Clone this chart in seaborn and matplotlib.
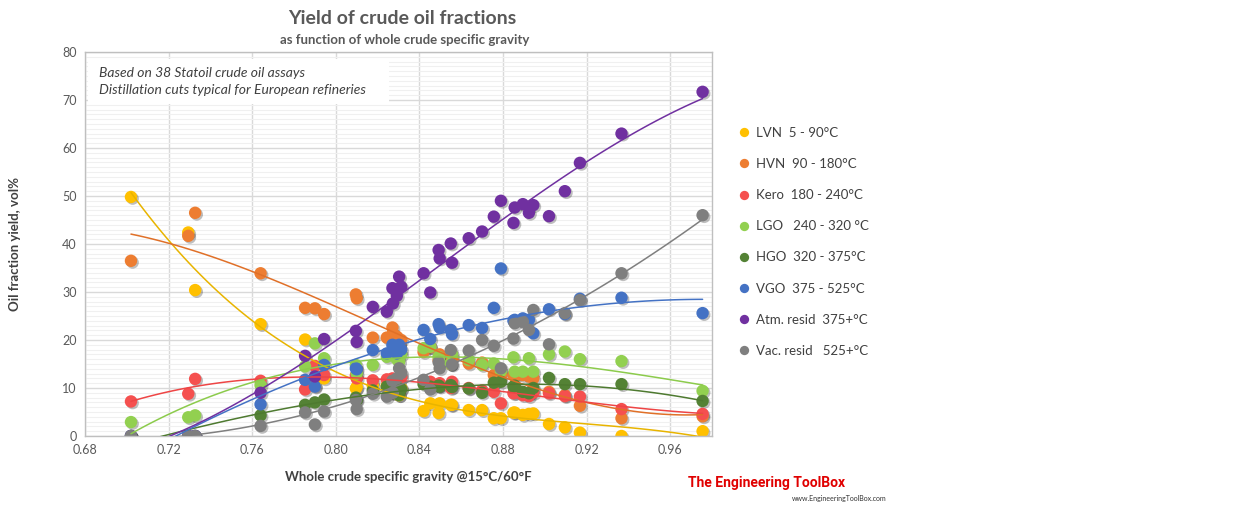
import matplotlib
matplotlib.use("Agg")
import numpy as np
import pandas as pd
import matplotlib.pyplot as plt
import matplotlib.patheffects as pe
from matplotlib.patches import Rectangle
from matplotlib.ticker import MultipleLocator, FormatStrFormatter
import seaborn as sns

# whole crude specific gravity of each assay
sg = [0.702, 0.7294, 0.7327, 0.764, 0.7853, 0.790, 0.7944, 0.8096, 0.8100, 0.8177,
      0.8244, 0.8271, 0.8273, 0.8292, 0.8303, 0.8313, 0.842, 0.8452, 0.8492, 0.8497,
      0.855, 0.8556, 0.8636, 0.870, 0.8756, 0.879, 0.885, 0.8856, 0.8895, 0.8924,
      0.8945, 0.902, 0.9096, 0.9168, 0.9367, 0.9755]

# yields, vol%
lvn = [49.8, 42.4, 30.4, 23.3, 20.1, 10.5, 12.0, 9.9, 10.2, 10.5,
       10.5, 9.0, 11.0, 9.5, 8.5, 10.0, 5.2, 6.8, 4.8, 6.8,
       6.5, 6.5, 5.4, 5.4, 3.7, 3.7, 4.85, 4.9, 4.4, 4.6,
       4.7, 2.5, 1.8, 0.7, 0.0, 1.0]
hvn = [36.5, 41.7, 46.5, 33.9, 26.7, 26.6, 25.4, 29.5, 28.7, 20.5,
       20.5, 22.6, 21.4, 20.7, 19.5, 20.0, 17.5, 18.5, 15.8, 17.0,
       15.0, 16.4, 15.1, 15.3, 12.7, 12.7, 12.7, 12.5, 12.7, 12.4,
       12.0, 9.2, 8.5, 6.3, 3.7, 4.1]
kero = [7.2, 8.8, 11.9, 11.5, 9.7, 14.6, 12.7, 12.6, 12.0, 11.6,
        11.8, 12.0, 11.0, 11.7, 11.3, 12.3, 11.5, 11.3, 10.5, 11.0,
        10.0, 11.3, 10.0, 9.5, 9.2, 6.8, 8.9, 9.0, 8.5, 8.3,
        9.0, 8.9, 8.3, 8.2, 5.6, 4.6]
lgo = [2.9, 3.9, 4.3, 10.6, 14.5, 19.3, 16.2, 14.8, 13.0, 14.8,
       16.5, 17.5, 18.0, 16.0, 15.5, 17.0, 18.3, 18.6, 16.5, 15.5,
       15.0, 17.0, 15.8, 14.8, 15.1, 13.5, 16.4, 13.4, 13.4, 16.2,
       13.4, 17.0, 17.6, 16.0, 15.6, 9.4]
hgo = [0, 0, 0, 4.3, 6.5, 7.0, 7.6, 8.0, 7.5, 9.5,
       10.3, 9.6, 10.5, 9.0, 8.5, 9.8, 10.8, 10.3, 10.5, 10.3,
       10.6, 10.2, 9.9, 9.0, 11.1, 11.3, 10.3, 10.5, 9.2, 8.9,
       10.0, 12.1, 10.8, 10.8, 10.8, 7.3]
vgo = [0, 0, 0, 6.6, 11.7, 10.3, 14.8, 14.1, 13.9, 17.9,
       17.2, 19.0, 18.6, 17.2, 19.0, 18.0, 22.1, 20.2, 23.3, 22.6,
       22.1, 21.2, 23.1, 22.5, 26.7, 34.9, 24.0, 24.2, 24.5, 24.2,
       21.4, 26.4, 25.4, 28.6, 28.8, 25.6]
atm = [0, 0, 0, 9.0, 16.7, 12.4, 20.2, 21.9, 19.6, 26.9,
       25.9, 30.8, 27.6, 29.2, 33.2, 31.1, 33.9, 29.9, 38.75, 37.0,
       40.1, 36.1, 41.2, 42.6, 45.7, 49.0, 44.4, 47.6, 48.3, 46.5,
       48.1, 45.8, 51.0, 56.9, 63.0, 71.7]
vac = [0, 0, 0, 2.1, 4.9, 2.4, 5.1, 7.5, 5.6, 8.8,
       8.2, 11.5, 9.0, 12.0, 14.1, 13.1, 11.7, 9.7, 15.4, 14.1,
       17.9, 14.9, 17.8, 20.0, 18.8, 14.1, 20.3, 23.5, 23.8, 22.1,
       26.25, 19.1, 25.6, 28.3, 33.9, 46.0]

labels = ["LVN  5 - 90°C", "HVN  90 - 180°C", "Kero  180 - 240°C", "LGO   240 - 320 °C",
          "HGO  320 - 375°C", "VGO  375 - 525°C", "Atm. resid  375+°C", "Vac. resid   525+°C"]
series = [lvn, hvn, kero, lgo, hgo, vgo, atm, vac]
colors = ["#FFC000", "#ED7D31", "#F5504F", "#92D050", "#548235", "#4472C4", "#7030A0", "#7F7F7F"]
line_colors = ["#E8B400", "#E07028", "#EE4545", "#8CCB4C", "#4E7A30", "#4472C4", "#7030A0", "#7F7F7F"]
orders = [3, 3, 3, 3, 3, 2, 3, 3]

df = pd.concat([pd.DataFrame({"sg": sg, "yield": s, "fraction": lab})
                for s, lab in zip(series, labels)], ignore_index=True)

sns.set_theme(style="white")
plt.rcParams["font.family"] = ["Lato", "DejaVu Sans"]
grey = "#595959"

fig = plt.figure(figsize=(12.54, 5.07), dpi=100)
ax = fig.add_axes([85 / 1254, 1 - 436 / 507, 627 / 1254, 384 / 507])

sns.scatterplot(data=df, x="sg", y="yield", hue="fraction", hue_order=labels,
                palette=colors, s=80, linewidth=0, ax=ax, zorder=2)
for coll in ax.collections:
    coll.set_path_effects([pe.SimplePatchShadow(offset=(1.2, -1.2), shadow_rgbFace="black",
                                                alpha=0.25), pe.Normal()])

# polynomial trend lines
for s, c, o in zip(series, line_colors, orders):
    sns.regplot(x=np.array(sg), y=np.array(s), order=o, scatter=False, ci=None,
                truncate=True, ax=ax, line_kws=dict(color=c, lw=1.1, zorder=3))

ax.set_xlim(0.68, 0.98)
ax.set_ylim(0, 80)
ax.xaxis.set_major_locator(MultipleLocator(0.04))
ax.xaxis.set_major_formatter(FormatStrFormatter("%.2f"))
ax.yaxis.set_major_locator(MultipleLocator(10))
ax.yaxis.set_minor_locator(MultipleLocator(1))
ax.set_axisbelow(True)
ax.grid(which="major", color="#d9d9d9", lw=1)
ax.grid(which="minor", axis="y", color="#f0f0f0", lw=0.8)
ax.tick_params(axis="both", which="both", length=0, labelsize=9, labelcolor=grey, pad=6)
for sp in ax.spines.values():
    sp.set_color("#bfbfbf")
    sp.set_linewidth(1)

ax.set_xlabel("Whole crude specific gravity @15°C/60°F", fontsize=9.5, fontweight="bold",
              color="#404040")
ax.set_ylabel("Oil fraction yield, vol%", fontsize=9.5, fontweight="bold", color="#404040")
ax.xaxis.set_label_coords((408 - 85) / 627, -(477 - 436) / 384)
ax.yaxis.set_label_coords(-(85 - 15) / 627, 0.5)
ax.xaxis.label.set_va("center")
ax.yaxis.label.set_va("center")

# note box
ax.add_patch(Rectangle((0.005, (436 - 104) / 384), 0.48, 45 / 384, transform=ax.transAxes,
                       facecolor="white", edgecolor="none", zorder=1))
ax.text(0.022, (436 - 73) / 384, "Based on 38 Statoil crude oil assays", transform=ax.transAxes,
        fontsize=10, style="italic", color="#404040", va="center", zorder=4)
ax.text(0.022, (436 - 90) / 384, "Distillation cuts typical for European refineries",
        transform=ax.transAxes, fontsize=10, style="italic", color="#404040", va="center", zorder=4)

fig.text(402 / 1254, 1 - 18 / 507, "Yield of crude oil fractions", ha="center", va="center",
         fontsize=14, fontweight="bold", color=grey)
fig.text(405 / 1254, 1 - 40 / 507, "as function of whole crude specific gravity", ha="center",
         va="center", fontsize=9.5, fontweight="bold", color=grey)

sns.move_legend(ax, loc="upper left", bbox_to_anchor=(724 / 1254, 1 - 115 / 507),
                bbox_transform=fig.transFigure, frameon=False, title=None, fontsize=9.5,
                labelspacing=1.45, handletextpad=0.3, markerscale=0.75, handlelength=1.2)
for t in ax.get_legend().get_texts():
    t.set_color("#404040")

fig.text(688 / 1254, 1 - 483 / 507, "The Engineering ToolBox", fontsize=10, fontweight="bold",
         color="#E00000", va="center", family=["Roboto", "DejaVu Sans"])
fig.text(887 / 1254, 1 - 498 / 507, "www.EngineeringToolBox.com", fontsize=5, ha="right",
         va="center", color="#333333")

fig.savefig("out.png", dpi=100)
